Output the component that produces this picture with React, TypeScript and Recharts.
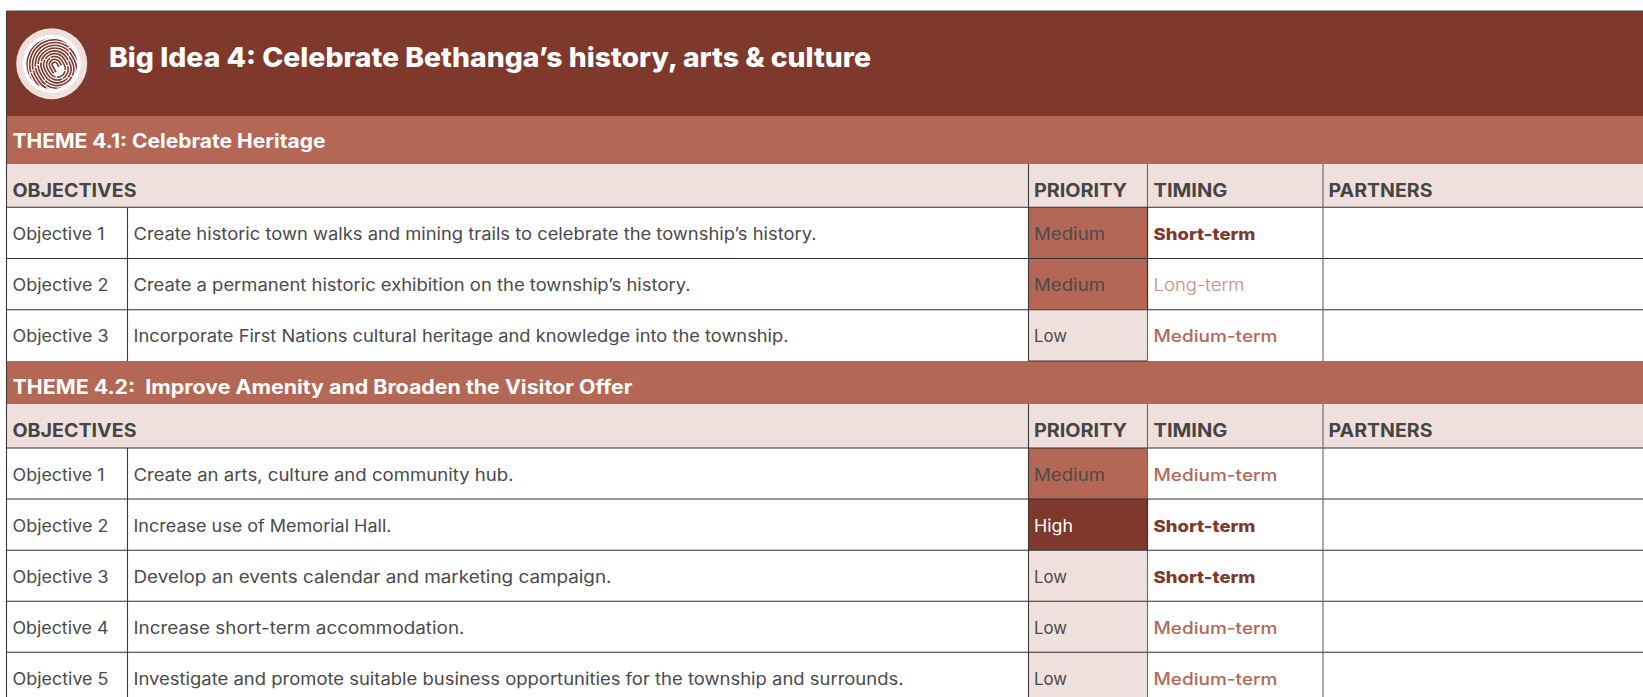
import React from "react";
import { ComposedChart, XAxis, YAxis, ReferenceArea, ReferenceLine, ReferenceDot, Label } from "recharts";

// ---------- content ----------
const bigIdeaTitle = "Big Idea 4: Celebrate Bethanga’s history, arts & culture";
const themeTitles = ["THEME 4.1: Celebrate Heritage", "THEME 4.2:  Improve Amenity and Broaden the Visitor Offer"];
const columnHeads = ["OBJECTIVES", "PRIORITY", "TIMING", "PARTNERS"];

const theme1Ids = ["Objective 1", "Objective 2", "Objective 3"];
const theme1Texts = [
  "Create historic town walks and mining trails to celebrate the township’s history.",
  "Create a permanent historic exhibition on the township’s history.",
  "Incorporate First Nations cultural heritage and knowledge into the township.",
];
const theme1Priority = ["Medium", "Medium", "Low"];
const theme1Timing = ["Short-term", "Long-term", "Medium-term"];

const theme2Ids = ["Objective 1", "Objective 2", "Objective 3", "Objective 4", "Objective 5"];
const theme2Texts = [
  "Create an arts, culture and community hub.",
  "Increase use of Memorial Hall.",
  "Develop an events calendar and marketing campaign.",
  "Increase short-term accommodation.",
  "Investigate and promote suitable business opportunities for the township and surrounds.",
];
const theme2Priority = ["Medium", "High", "Low", "Low", "Low"];
const theme2Timing = ["Medium-term", "Short-term", "Short-term", "Medium-term", "Medium-term"];

// ---------- layout and styles (kept apart from the content) ----------
const W = 1643;
const H = 697;
const LEFT = 6.5;
const COL = [127.5, 1028.5, 1147.5, 1323];
const HEADER = [11, 116];
const THEME_BANDS = [[116, 164], [361, 404]];
const HEAD_BANDS = [[164, 207.3], [404, 448]];
const ROWS1 = [207.3, 258.5, 309.8, 361];
const ROWS2 = [448, 499, 550.3, 601.3, 652.3, 703.5];
const MAROON = "#7f382c";
const TERRA = "#b56756";
const BLUSH = "#f0e0dd";
const INK = "#4a4a4a";
const FONT = "Inter, 'Noto Sans', sans-serif";

const widths: Record<string, number> = {
  [bigIdeaTitle]: 762,
  [themeTitles[0]]: 313,
  [themeTitles[1]]: 620,
  OBJECTIVES: 124,
  PRIORITY: 93,
  TIMING: 74,
  PARTNERS: 104,
  "Objective 1": 92,
  "Objective 2": 96,
  "Objective 3": 96,
  "Objective 4": 96,
  "Objective 5": 96,
  [theme1Texts[0]]: 683,
  [theme1Texts[1]]: 557,
  [theme1Texts[2]]: 655,
  [theme2Texts[0]]: 380,
  [theme2Texts[1]]: 258,
  [theme2Texts[2]]: 478,
  [theme2Texts[3]]: 331,
  [theme2Texts[4]]: 770,
  Medium: 71,
  Low: 33,
  High: 39,
  "Short-term": 102,
  "Long-term": 91,
  "Medium-term": 124,
};

const priorityFill: Record<string, string> = { Medium: TERRA, High: MAROON, Low: BLUSH };
const priorityInk: Record<string, string> = { Medium: INK, High: "#ffffff", Low: INK };
const timingInk: Record<string, string> = { "Short-term": MAROON, "Medium-term": TERRA, "Long-term": "#c98a7c" };
const timingWeight: Record<string, number> = { "Short-term": 800, "Medium-term": 500, "Long-term": 300 };

type Style = { size: number; weight: number; ink: string; pad: number; base: number };

function cell(
  key: string,
  x1: number,
  x2: number,
  y1: number,
  y2: number,
  fill: string,
  text?: string,
  st?: Style
) {
  return (
    <ReferenceArea
      key={key}
      x1={x1}
      x2={x2}
      y1={y1}
      y2={y2}
      fill={fill}
      fillOpacity={1}
      stroke="none"
      ifOverflow="visible"
    >
      {text && st ? (
        <Label
          content={(p: any) => (
            <text
              x={p.viewBox.x + st.pad}
              y={p.viewBox.y + st.base}
              fontFamily={FONT}
              fontSize={st.size}
              fontWeight={st.weight}
              fill={st.ink}
              textLength={widths[text]}
              lengthAdjust="spacingAndGlyphs"
              xmlSpace="preserve"
            >
              {text}
            </text>
          )}
        />
      ) : null}
    </ReferenceArea>
  );
}

// Decorative whorl badge: an open hook at the centre, nested stadium-shaped ridges around it.
const Fingerprint = (p: any) => {
  const cx = p.cx;
  const cy = p.cy;
  const hooks = [2.6, 5.4];
  const ridges = [8.2, 11, 13.8, 16.6, 19.4, 22.2, 25, 27.8];
  return (
    <g>
      <defs>
        <clipPath id="whorl-clip">
          <circle cx={cx} cy={cy} r={25.5} />
        </clipPath>
      </defs>
      <circle cx={cx} cy={cy} r={35.5} fill={BLUSH} />
      <circle cx={cx} cy={cy} r={29} fill="#ffffff" />
      <g clipPath="url(#whorl-clip)">
        <g fill="none" stroke={MAROON} strokeWidth={1.6} transform={`translate(${cx + 3} ${cy + 1}) rotate(-30)`}>
          {hooks.map((r) => (
            <path key={r} d={`M ${-r} 7 V 0 A ${r} ${r} 0 0 1 ${r} 0 V 4`} />
          ))}
          {ridges.map((r, i) => (
            <path
              key={r}
              d={`M ${-r} 5 V 0 A ${r} ${r} 0 0 1 ${r} 0 V 5 A ${r} ${r} 0 0 1 ${-r} 5`}
              strokeDasharray={`${r * 1.7 + 3} 1.1 ${r * 2.2 + 5} 1.1 ${r * 1.1 + 2} 1.1`}
              strokeDashoffset={i * 6}
            />
          ))}
        </g>
      </g>
    </g>
  );
};

const bodyStyle = (pad: number, ink = INK, weight = 400): Style => ({ size: 16.6, weight, ink, pad, base: 0 });

function rowsFor(prefix: string, edges: number[], ids: string[], texts: string[], pri: string[], tim: string[]) {
  const out: React.ReactNode[] = [];
  ids.forEach((id, i) => {
    const y1 = edges[i];
    const y2 = edges[i + 1];
    const base = (y2 - y1) / 2 + 7;
    out.push(cell(`${prefix}w${i}`, LEFT, W, y1, y2, "#ffffff"));
    out.push(cell(`${prefix}a${i}`, LEFT, COL[0], y1, y2, "#ffffff", id, { ...bodyStyle(6), base }));
    out.push(cell(`${prefix}b${i}`, COL[0], COL[1], y1, y2, "#ffffff", texts[i], { ...bodyStyle(6), base }));
    out.push(
      cell(`${prefix}c${i}`, COL[1], COL[2], y1, y2, priorityFill[pri[i]], pri[i], {
        ...bodyStyle(5.5, priorityInk[pri[i]]),
        base,
      })
    );
    out.push(
      cell(`${prefix}d${i}`, COL[2], COL[3], y1, y2, "#ffffff", tim[i], {
        ...bodyStyle(6, timingInk[tim[i]], timingWeight[tim[i]]),
        base,
      })
    );
  });
  return out;
}

const headStyle = (pad: number): Style => ({ size: 18.5, weight: 700, ink: "#454545", pad, base: 33.3 });

function headBand(n: number) {
  const [y1, y2] = HEAD_BANDS[n];
  return [
    cell(`hb${n}`, LEFT, COL[1], y1, y2, BLUSH, columnHeads[0], headStyle(6)),
    cell(`hc${n}`, COL[1], COL[2], y1, y2, BLUSH, columnHeads[1], headStyle(5.5)),
    cell(`hd${n}`, COL[2], COL[3], y1, y2, BLUSH, columnHeads[2], headStyle(6)),
    cell(`he${n}`, COL[3], W, y1, y2, BLUSH, columnHeads[3], headStyle(5.5)),
  ];
}

function seg(key: string, x1: number, y1: number, x2: number, y2: number, color: string) {
  return (
    <ReferenceLine
      key={key}
      stroke={color}
      strokeWidth={1.1}
      ifOverflow="visible"
      segment={[{ x: x1, y: y1 }, { x: x2, y: y2 }]}
    />
  );
}
const hLine = (y: number, color = "#2e2e2e") => seg(`h${y}`, LEFT, y, W, y, color);
const vLine = (x: number, y1: number, y2: number, color = "#3a3a3a") => seg(`v${x}-${y1}`, x, y1, x, y2, color);

export default function App() {
  return (
    <div style={{ position: "absolute", left: 0, top: 0, width: W, height: H, overflow: "hidden", background: "#fff" }}>
      <ComposedChart width={W} height={H} margin={{ top: 0, right: 0, bottom: 0, left: 0 }} data={[{ x: 0, y: 0 }]}>
        <XAxis type="number" dataKey="x" domain={[0, W]} hide />
        <YAxis type="number" dataKey="y" domain={[0, H]} reversed hide />

        {cell("header", LEFT, W, HEADER[0], HEADER[1], MAROON, bigIdeaTitle, {
          size: 27,
          weight: 800,
          ink: "#ffffff",
          pad: 102.5,
          base: 55.7,
        })}
        {cell("t1", LEFT, W, THEME_BANDS[0][0], THEME_BANDS[0][1], TERRA, themeTitles[0], {
          size: 19.5,
          weight: 700,
          ink: "#ffffff",
          pad: 6,
          base: 31.7,
        })}
        {cell("t2", LEFT, W, THEME_BANDS[1][0], THEME_BANDS[1][1], TERRA, themeTitles[1], {
          size: 19.5,
          weight: 700,
          ink: "#ffffff",
          pad: 6,
          base: 32.6,
        })}
        {headBand(0)}
        {headBand(1)}
        {rowsFor("a", ROWS1, theme1Ids, theme1Texts, theme1Priority, theme1Timing)}
        {rowsFor("b", ROWS2, theme2Ids, theme2Texts, theme2Priority, theme2Timing)}

        {ROWS1.slice(0, 3).map((y) => hLine(y))}
        {ROWS2.slice(0, 5).map((y) => hLine(y))}
        {seg("pb", COL[1], 361, COL[2], 361, "#3a3a3a")}
        {hLine(11, "#4a4a4a")}
        {vLine(LEFT, 11, H)}
        {vLine(COL[0], ROWS1[0], ROWS1[3])}
        {vLine(COL[0], ROWS2[0], H)}
        {vLine(COL[1], HEAD_BANDS[0][0], ROWS1[3])}
        {vLine(COL[1], HEAD_BANDS[1][0], H)}
        {[COL[2], COL[3]].map((x) => vLine(x, HEAD_BANDS[0][0], ROWS1[3], "#666666"))}
        {[COL[2], COL[3]].map((x) => vLine(x, HEAD_BANDS[1][0], H, "#666666"))}
        {seg("pd1", COL[2], ROWS1[0], COL[2], ROWS1[2], "#2e2e2e")}
        {seg("pd2", COL[2], ROWS2[1], COL[2], ROWS2[2], "#2e2e2e")}

        <ReferenceDot x={51.7} y={63.7} r={35} ifOverflow="visible" shape={Fingerprint} />
      </ComposedChart>
    </div>
  );
}
